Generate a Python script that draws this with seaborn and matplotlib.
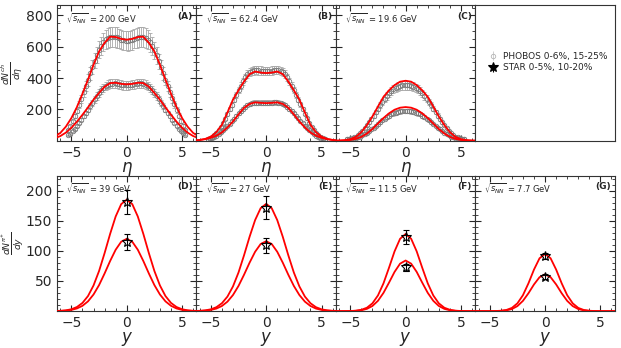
import numpy as np
import pandas as pd
import matplotlib
matplotlib.use("Agg")
import matplotlib.pyplot as plt
from matplotlib.ticker import AutoMinorLocator, MultipleLocator
import seaborn as sns

# ---------------- data ----------------
eta = np.round(np.arange(-5.3, 5.31, 0.2), 1)          # PHOBOS eta bins
grid = np.arange(-6.5, 6.51, 0.5)                       # model curve grid

energies_top = ["200", "62.4", "19.6"]
labels_top = ["(A)", "(B)", "(C)"]
energies_bot = ["39", "27", "11.5", "7.7"]
labels_bot = ["(D)", "(E)", "(F)", "(G)"]

# PHOBOS dN/deta, central (0-6%) and semi-central (15-25%)
phobos_200_c = [66,93,123,158,193,230,268,309,349,389,431,471,510,547,580,607,630,647,657,663,665,663,659,653,646,641,639,
                638,640,645,652,658,662,664,662,656,645,628,605,578,545,508,470,430,390,350,310,270,232,195,160,125,95,68]
phobos_200_c_err = [7,9,12,15,19,22,26,30,33,37,41,45,48,52,55,58,60,62,63,64,64,64,64,63,63,62,62,
                    62,62,63,63,64,64,64,64,63,62,60,58,55,52,48,45,41,37,33,30,26,22,19,15,12,9,7]
phobos_200_p = [34,46,61,77,95,114,134,155,176,198,220,242,264,285,304,322,337,349,357,363,365,366,363,360,357,355,354,
                355,356,358,361,364,366,366,364,358,350,338,323,305,286,265,243,221,199,177,156,135,115,96,78,62,47,35]
phobos_200_p_err = [3,4,5,6,8,9,11,12,14,16,18,19,21,23,24,26,27,28,29,29,29,29,29,29,29,28,28,
                    28,28,29,29,29,29,29,29,29,28,27,26,24,23,21,19,18,16,14,12,11,9,8,6,5,4,3]

phobos_62_c = [13,18,25,35,49,67,89,114,142,171,201,231,261,291,321,351,379,404,424,437,445,449,450,449,447,446,444,
               445,446,448,450,451,450,446,438,425,405,380,352,322,292,262,232,202,172,143,115,90,68,50,36,26,19,14]
phobos_62_c_err = [2,2,3,3,4,5,6,7,9,10,12,14,16,18,19,21,23,24,26,26,27,27,27,27,27,27,27,
                   27,27,27,27,27,27,27,26,26,24,23,21,19,18,16,14,12,10,9,7,6,5,4,3,3,2,2]
phobos_62_p = [10,13,17,24,31,41,53,66,80,95,110,126,142,158,174,189,203,216,227,235,240,243,244,244,243,242,242,
               243,243,244,245,245,244,241,236,228,217,204,190,175,159,143,127,111,96,81,67,54,42,32,24,18,13,10]
phobos_62_p_err = [1,1,1,2,2,3,3,4,5,6,7,8,9,10,10,11,12,13,14,14,14,15,15,15,15,15,15,
                   15,15,15,15,15,15,14,14,14,13,12,11,10,10,9,8,7,6,5,4,3,3,2,2,1,1,1]

phobos_19_c = [12,14,17,21,27,36,48,63,80,99,119,140,161,183,205,227,248,268,286,302,316,328,338,345,350,354,355,
               355,354,350,345,338,328,316,302,286,268,248,227,205,183,161,140,119,99,80,63,48,36,27,21,17,14,12]
phobos_19_c_err = [1,1,2,2,2,3,4,5,6,8,10,11,13,15,16,18,20,21,23,24,25,26,27,28,28,28,28,
                   28,28,28,28,27,26,25,24,23,21,20,18,16,15,13,11,10,8,6,5,4,3,2,2,2,1,1]
phobos_19_p = [10,11,13,15,18,22,27,34,42,51,61,72,83,95,107,119,131,142,152,161,169,175,180,184,187,189,190,
               190,189,187,184,180,175,169,161,152,142,131,119,107,95,83,72,61,51,42,34,27,22,18,15,13,11,10]
phobos_19_p_err = [1,1,1,2,2,2,3,3,4,5,6,7,8,9,10,10,11,12,13,14,14,14,15,15,15,15,15,
                   15,15,15,15,14,14,14,13,12,11,10,10,9,8,7,6,5,4,3,3,2,2,2,1,1,1,1]

# model curves dN/deta on grid
model_200_c = [28,50,90,145,215,300,390,485,570,625,664,662,650,645,650,662,664,625,570,485,390,300,215,145,90,50,28]
model_200_p = [16,30,52,83,122,166,213,262,305,345,368,370,363,360,363,370,368,345,305,262,213,166,122,83,52,30,16]
model_62_c = [2,5,12,26,55,102,180,262,322,378,425,442,435,432,435,442,425,378,322,262,180,102,55,26,12,5,2]
model_62_p = [2,5,10,19,32,53,85,123,168,210,235,245,242,240,242,245,235,210,168,123,85,53,32,19,10,5,2]
model_19_c = [0.5,1,4,10,25,55,100,155,218,280,322,355,377,383,377,355,322,280,218,155,100,55,25,10,4,1,0.5]
model_19_p = [0.3,1,2,5,12,25,46,75,110,145,175,198,211,215,211,198,175,145,110,75,46,25,12,5,2,1,0.3]

# STAR pi+ dN/dy at y=0 (central, semi-central)
star_y = [0.0, 0.0]
star_39 = [181, 115]; star_39_err = [20, 13]
star_27 = [172, 109]; star_27_err = [19, 12]
star_11 = [123, 73];  star_11_err = [12, 6]
star_7 = [91, 57];    star_7_err = [5, 4]

# model curves dN/dy on grid
model_39_c = [0.2,0.5,1.3,3.1,6.8,13.6,25.0,42.6,66.6,96.3,128.2,157.1,177.6,185,177.6,157.1,128.2,96.3,66.6,42.6,25.0,13.6,6.8,3.1,1.3,0.5,0.2]
model_39_p = [0.1,0.3,0.8,2.0,4.4,8.8,16.2,27.6,43.2,62.5,83.2,101.9,115.2,120,115.2,101.9,83.2,62.5,43.2,27.6,16.2,8.8,4.4,2.0,0.8,0.3,0.1]
model_27_c = [0.2,0.5,1.3,3.0,6.5,13.1,24.1,41.0,64.1,92.7,123.4,151.1,170.9,178,170.9,151.1,123.4,92.7,64.1,41.0,24.1,13.1,6.5,3.0,1.3,0.5,0.2]
model_27_p = [0.1,0.3,0.8,2.0,4.2,8.5,15.7,26.7,41.8,60.4,80.4,98.5,111.4,116,111.4,98.5,80.4,60.4,41.8,26.7,15.7,8.5,4.2,2.0,0.8,0.3,0.1]
model_11_c = [0,0,0.05,0.2,0.7,2.2,5.6,12.9,26.0,46.1,72.1,99.2,120.1,128,120.1,99.2,72.1,46.1,26.0,12.9,5.6,2.2,0.7,0.2,0.05,0,0]
model_11_p = [0,0,0,0.1,0.5,1.4,3.7,8.5,17.1,30.3,47.3,65.1,78.8,84,78.8,65.1,47.3,30.3,17.1,8.5,3.7,1.4,0.5,0.1,0,0,0]
model_7_c = [0,0,0,0,0.15,0.6,1.9,5.3,12.9,26.4,46.2,69.0,87.7,95,87.7,69.0,46.2,26.4,12.9,5.3,1.9,0.6,0.15,0,0,0,0]
model_7_p = [0,0,0,0,0.1,0.4,1.2,3.4,8.3,17.0,29.7,44.3,56.3,61,56.3,44.3,29.7,17.0,8.3,3.4,1.2,0.4,0.1,0,0,0,0]

top_data = [(phobos_200_c, phobos_200_c_err, phobos_200_p, phobos_200_p_err, model_200_c, model_200_p),
            (phobos_62_c, phobos_62_c_err, phobos_62_p, phobos_62_p_err, model_62_c, model_62_p),
            (phobos_19_c, phobos_19_c_err, phobos_19_p, phobos_19_p_err, model_19_c, model_19_p)]
bot_data = [(star_39, star_39_err, model_39_c, model_39_p),
            (star_27, star_27_err, model_27_c, model_27_p),
            (star_11, star_11_err, model_11_c, model_11_p),
            (star_7, star_7_err, model_7_c, model_7_p)]

# ---------------- style ----------------
sns.set_theme(style="ticks")
plt.rcParams.update({
    "font.family": ["DejaVu Sans"],
    "mathtext.fontset": "dejavusans",
    "axes.linewidth": 0.8,
    "axes.edgecolor": "#333333",
    "xtick.direction": "in", "ytick.direction": "in",
    "xtick.top": True, "ytick.right": True,
    "xtick.major.size": 4, "ytick.major.size": 4,
    "xtick.minor.size": 2, "ytick.minor.size": 2,
    "xtick.major.width": 0.8, "ytick.major.width": 0.8,
    "xtick.minor.width": 0.6, "ytick.minor.width": 0.6,
    "xtick.labelsize": 10, "ytick.labelsize": 10,
})

fig = plt.figure(figsize=(6.21, 3.48), dpi=100)
gs = fig.add_gridspec(2, 4, left=0.0918, right=0.990, top=0.985, bottom=0.106,
                      wspace=0.0, hspace=0.257)

PH_KW = dict(fmt="o", ms=3.2, mfc="none", mec="#7a7a7a", mew=0.6,
             ecolor="#a8a8a8", elinewidth=0.6, capsize=1.5, capthick=0.5, zorder=2)
ST_KW = dict(fmt="*", ms=7, mfc="none", mec="black", mew=0.8,
             ecolor="black", elinewidth=0.8, capsize=2, capthick=0.8, zorder=4)


def style_axis(ax, ymax, ymajor, yminor_n, xlab):
    ax.set_xlim(-6.3, 6.3)
    ax.set_ylim(0, ymax)
    ax.xaxis.set_major_locator(MultipleLocator(5))
    ax.xaxis.set_minor_locator(AutoMinorLocator(5))
    ax.yaxis.set_major_locator(MultipleLocator(ymajor))
    ax.yaxis.set_minor_locator(AutoMinorLocator(yminor_n))
    ax.tick_params(which="both", top=True, right=True, direction="in")
    ax.set_yticks([t for t in ax.get_yticks() if 0 < t < ymax])
    ax.set_xlabel(xlab, fontsize=12, labelpad=0)


def annotate(ax, energy, lab):
    ax.text(0.065, 0.955, r"$\sqrt{s_{NN}}$ = " + energy + " GeV", transform=ax.transAxes,
            fontsize=6, ha="left", va="top")
    ax.text(0.975, 0.95, lab, transform=ax.transAxes, fontsize=6.5,
            fontweight="bold", ha="right", va="top")


# top row
top_axes = []
for i in range(3):
    ax = fig.add_subplot(gs[0, i], sharey=top_axes[0] if top_axes else None)
    c, ce, p, pe, mc, mp = top_data[i]
    ax.errorbar(eta, c, yerr=ce, **PH_KW)
    ax.errorbar(eta, p, yerr=pe, **PH_KW)
    for m in (mc, mp):
        df = pd.DataFrame({"x": grid, "v": m})
        sns.lineplot(data=df, x="x", y="v", ax=ax, color="red", lw=1.3, zorder=3,
                     sort=False, estimator=None)
    style_axis(ax, 865, 200, 4, r"$\eta$")
    ax.set_ylabel("")
    annotate(ax, energies_top[i], labels_top[i])
    if i > 0:
        ax.tick_params(labelleft=False)
    top_axes.append(ax)
top_axes[0].set_ylabel(r"$\frac{dN^{ch}}{d\eta}$", fontsize=9.5, va="center")
top_axes[0].yaxis.set_label_coords(-0.32, 0.5)

# legend panel
axl = fig.add_subplot(gs[0, 3])
axl.set_xticks([]); axl.set_yticks([])
axl.tick_params(which="both", top=False, right=False, left=False, bottom=False)
h1 = axl.errorbar([], [], yerr=[], fmt="o", ms=3.2, mfc="none", mec="#b5b5b5", mew=0.6,
                  ecolor="#c8c8c8", elinewidth=0.6, capsize=1.5)
h2 = axl.errorbar([], [], yerr=[], fmt="*", ms=7, mfc="black", mec="black", mew=0.8,
                  ecolor="black", elinewidth=0.8, capsize=2)
axl.legend([h1, h2], ["PHOBOS 0-6%, 15-25%", "STAR 0-5%, 10-20%"], loc="center",
           bbox_to_anchor=(0.52, 0.58), frameon=False, fontsize=6.5,
           handlelength=1.2, handletextpad=0.5, labelspacing=0.3)

# bottom row
bot_axes = []
for i in range(4):
    ax = fig.add_subplot(gs[1, i], sharey=bot_axes[0] if bot_axes else None)
    s, se, mc, mp = bot_data[i]
    for m in (mc, mp):
        df = pd.DataFrame({"x": grid, "v": m})
        sns.lineplot(data=df, x="x", y="v", ax=ax, color="red", lw=1.3, zorder=3,
                     sort=False, estimator=None)
    ax.errorbar(star_y, s, yerr=se, **ST_KW)
    style_axis(ax, 225, 50, 5, r"$y$")
    ax.set_ylabel("")
    annotate(ax, energies_bot[i], labels_bot[i])
    if i > 0:
        ax.tick_params(labelleft=False)
    bot_axes.append(ax)
bot_axes[0].set_ylabel(r"$\frac{dN^{\pi^{+}}}{dy}$", fontsize=9.5, va="center")
bot_axes[0].yaxis.set_label_coords(-0.32, 0.5)

fig.savefig("out.png", dpi=100)
